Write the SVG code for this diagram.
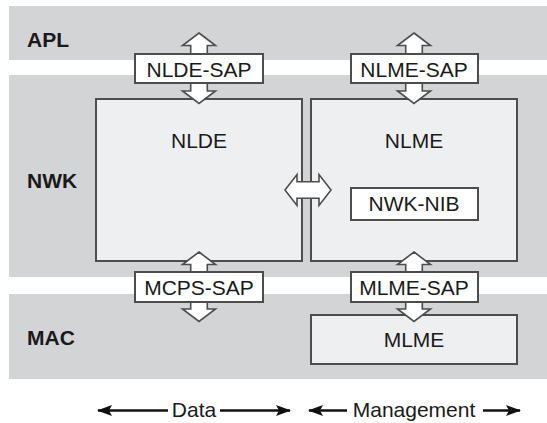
<svg xmlns="http://www.w3.org/2000/svg" width="547" height="423" viewBox="0 0 547 423">
<style>
.band{fill:#d3d4d6;stroke:none}
.layer{font-family:"Liberation Sans",Arial,sans-serif;font-weight:bold;font-size:21px;fill:#1a1a1a}
.box{fill:#eeeff1;stroke:#4d4d4d;stroke-width:2}
.sap{fill:#ffffff;stroke:#4d4d4d;stroke-width:2}
.t{font-family:"Liberation Sans",Arial,sans-serif;font-size:21px;fill:#1a1a1a;text-anchor:middle}
.barrow{fill:#ffffff;stroke:#4d4d4d;stroke-width:1.6;stroke-linejoin:miter}
.leg{stroke:#111;stroke-width:2.4;fill:none;marker-end:url(#ah)}
</style>
<defs>
<marker id="ah" markerWidth="15" markerHeight="11" refX="14" refY="5.5" orient="auto" markerUnits="userSpaceOnUse">
<path d="M0,0 L15,5.5 L0,11 L3,5.5 Z" fill="#111"/>
</marker>
</defs>
<g id="layer-apl"><rect class="band" x="9" y="6" width="538" height="54"/><text class="layer" x="27" y="47">APL</text></g>
<g id="layer-nwk"><rect class="band" x="9" y="75" width="538" height="202"/><text class="layer" x="27" y="188">NWK</text></g>
<g id="layer-mac"><rect class="band" x="9" y="294" width="538" height="85"/><text class="layer" x="27" y="345">MAC</text></g>
<g id="nlde"><rect class="box" x="96" y="99" width="206" height="162"/><text class="t" x="199" y="148">NLDE</text></g>
<g id="nlme"><rect class="box" x="311" y="99" width="206" height="162"/><text class="t" x="414" y="148">NLME</text></g>
<g id="mlme"><rect class="box" x="311" y="315" width="206" height="49"/><text class="t" x="414" y="347">MLME</text></g>
<g id="connectors">
<path class="barrow" d="M199,33 L215.5,45.5 L207.3,45.5 L207.3,91 L215.5,91 L199,103.5 L182.5,91 L190.7,91 L190.7,45.5 L182.5,45.5 Z"/>
<path class="barrow" d="M414,33 L430.5,45.5 L422.3,45.5 L422.3,91 L430.5,91 L414,103.5 L397.5,91 L405.7,91 L405.7,45.5 L397.5,45.5 Z"/>
<path class="barrow" d="M199,252 L215.5,264.5 L207.3,264.5 L207.3,309 L215.5,309 L199,321.5 L182.5,309 L190.7,309 L190.7,264.5 L182.5,264.5 Z"/>
<path class="barrow" d="M414,252 L430.5,264.5 L422.3,264.5 L422.3,309 L430.5,309 L414,321.5 L397.5,309 L405.7,309 L405.7,264.5 L397.5,264.5 Z"/>
<path class="barrow" d="M285,190 L297,174.5 L297,181.7 L319,181.7 L319,174.5 L331,190 L319,205.5 L319,198.3 L297,198.3 L297,205.5 Z"/>
<line class="leg" x1="168" y1="410.5" x2="98" y2="410.5"/>
<line class="leg" x1="220" y1="410.5" x2="290" y2="410.5"/>
<line class="leg" x1="347" y1="410.5" x2="309" y2="410.5"/>
<line class="leg" x1="483" y1="410.5" x2="520" y2="410.5"/>
</g>
<g id="nlde-sap"><rect class="sap" x="135" y="54" width="128" height="29"/><text class="t" x="199" y="77">NLDE-SAP</text></g>
<g id="nlme-sap"><rect class="sap" x="351" y="54" width="127" height="29"/><text class="t" x="414" y="77">NLME-SAP</text></g>
<g id="mcps-sap"><rect class="sap" x="135" y="272" width="128" height="30"/><text class="t" x="199" y="295">MCPS-SAP</text></g>
<g id="mlme-sap"><rect class="sap" x="351" y="272" width="127" height="30"/><text class="t" x="414" y="295">MLME-SAP</text></g>
<g id="nwk-nib"><rect class="sap" x="351" y="188" width="127" height="32"/><text class="t" x="414" y="211">NWK-NIB</text></g>
<g id="legend">
<text class="t" x="194" y="417">Data</text>
<text class="t" x="414" y="417">Management</text>
</g>
</svg>
